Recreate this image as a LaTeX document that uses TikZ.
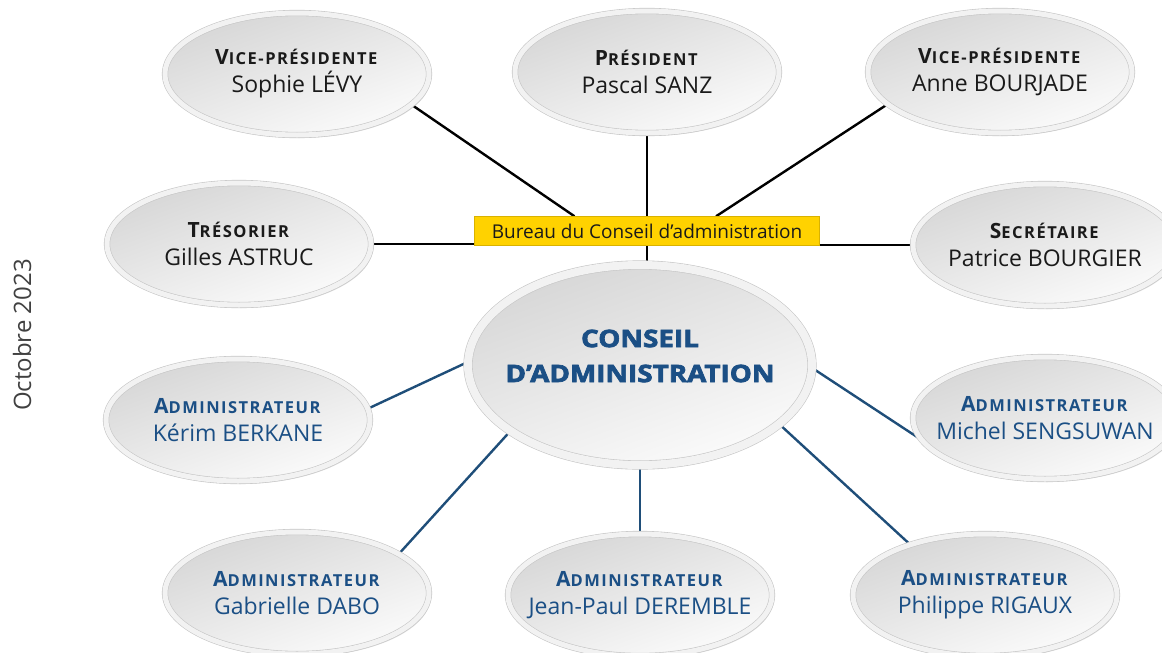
\documentclass[tikz,border=0pt]{standalone}
\usepackage{fontspec}
\setmainfont{Open Sans}
\usetikzlibrary{shapes.geometric,shadows,backgrounds,calc}
\definecolor{navy}{HTML}{1B4F85}
\definecolor{lineblue}{HTML}{1F4E79}
\definecolor{gold}{HTML}{FFD200}
\definecolor{txt}{HTML}{1A1A1A}
\newcommand{\smc}[2]{\textbf{\addfontfeatures{LetterSpace=9}{\fontsize{21}{22}\selectfont #1}{\fontsize{16.5}{18}\selectfont #2}}}
\begin{document}
\begin{tikzpicture}[x=1pt,y=-1pt,
  oval/.style={ellipse, minimum width=264pt, minimum height=122pt, inner xsep=-80pt, inner ysep=-20pt,
    draw=gray!45, double=gray!10, double distance=5pt, line width=0.6pt,
    top color=gray!32, bottom color=gray!3, shading angle=20,
    drop shadow={shadow xshift=2pt,shadow yshift=-3pt,opacity=0.25,fill=gray},
    align=center, text=txt, font=\fontsize{23}{28}\selectfont},
  adm/.style={oval, text=navy},
  blk/.style={draw=black, line width=2.4pt},
  blu/.style={draw=lineblue, line width=2.4pt}]
\useasboundingbox (0,0) rectangle (1162,653);

\node[rotate=90, font=\fontsize{24}{26}\selectfont, text=black!75] (date) at (22,335) {Octobre 2023};

\node[oval] (vp1) at (297,74) {\smc{V}{ICE-PRÉSIDENTE}\\Sophie LÉVY};
\node[oval] (pres) at (647,72) {\smc{P}{RÉSIDENT}\\Pascal SANZ};
\node[oval] (vp2) at (1000,72) {\smc{V}{ICE-PRÉSIDENTE}\\Anne BOURJADE};
\node[oval] (tres) at (239,244) {\smc{T}{RÉSORIER}\\Gilles ASTRUC};
\node[oval] (sec) at (1045,245) {\smc{S}{ECRÉTAIRE}\\Patrice BOURGIER};

\node[fill=gold, draw=gold!85!black, line width=0.5pt, minimum width=345pt, minimum height=29pt, inner sep=0pt,
  font=\fontsize{19}{21}\selectfont, text=txt] (bureau) at (647,231) {Bureau du Conseil d’administration};

\node[oval, minimum width=344pt, minimum height=200pt, double distance=8pt] (conseil) at (640,365) {};
\node[align=center, text=navy, font=\fontsize{24}{35}\selectfont\addfontfeatures{FakeBold=3,FakeStretch=1.16}\bfseries] (conseilt) at (640,356) {CONSEIL\\D’ADMINISTRATION};

\node[adm] (k) at (238,420) {\smc{A}{DMINISTRATEUR}\\Kérim BERKANE};
\node[adm] (michel) at (1045,418) {\smc{A}{DMINISTRATEUR}\\Michel SENGSUWAN};
\node[adm] (gab) at (297,593) {\smc{A}{DMINISTRATEUR}\\Gabrielle DABO};
\node[adm] (jp) at (640,595) {\smc{A}{DMINISTRATEUR}\\Jean-Paul DEREMBLE};
\node[adm] (phil) at (985,595) {\smc{A}{DMINISTRATEUR}\\Philippe RIGAUX};

\begin{scope}[on background layer]
\draw[blk] (vp1.-15) -- ($(bureau.north west)!0.29!(bureau.north east)$);
\draw[blk] (vp2.196) -- ($(bureau.north west)!0.7!(bureau.north east)$);
\draw[blk] (pres.south) -- (pres.south |- bureau.north);
\draw[blk] (tres.east) -- (tres.east -| bureau.west);
\draw[blk] (sec.west) -- (sec.west -| bureau.east);
\draw[blk] (bureau.south) -- (bureau.south |- conseil.north);
\draw[blu] (conseil.179) -- (k.5);
\draw[blu] (conseil.207) -- (gab.21);
\draw[blu] (conseil.south) -- (jp.north);
\draw[blu] (conseil.-23) -- (phil.146);
\draw[blu] (conseil.-1) -- (michel.190);
\end{scope}
\end{tikzpicture}
\end{document}
